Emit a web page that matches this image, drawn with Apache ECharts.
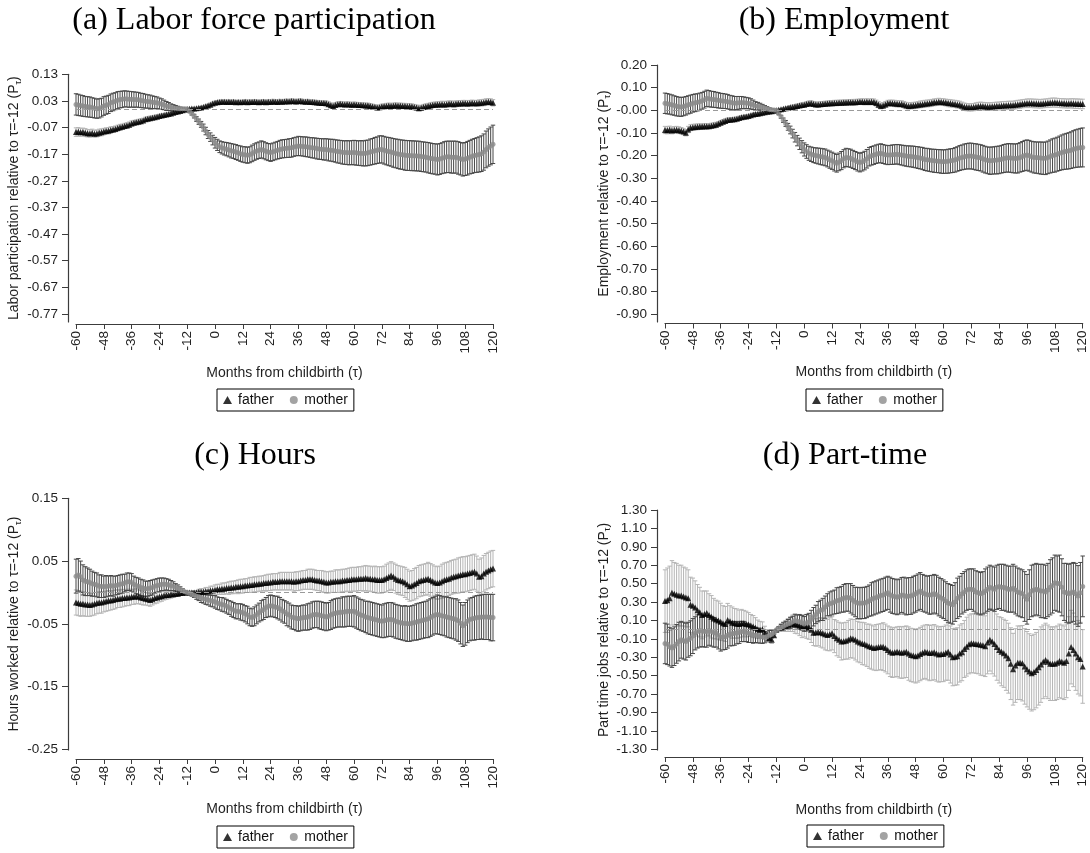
<!DOCTYPE html>
<html>
<head>
<meta charset="utf-8">
<script src="https://cdn.jsdelivr.net/npm/echarts@6/dist/echarts.min.js"></script>
<style>
html,body{margin:0;padding:0;background:#fff;}
#c{width:1090px;height:853px;}
</style>
</head>
<body>
<div id="c"></div>
<script>
// ---------- x categories (months from childbirth) ----------
const xTicks = [-60,-48,-36,-24,-12,0,12,24,36,48,60,72,84,96,108,120];

// ---------- y tick values / labels ----------
const yTicksA = [0.13,0.03,-0.07,-0.17,-0.27,-0.37,-0.47,-0.57,-0.67,-0.77];
const yLabelsA = ['0.13','0.03','-0.07','-0.17','-0.27','-0.37','-0.47','-0.57','-0.67','-0.77'];
const yTicksB = [0.20,0.10,0,-0.10,-0.20,-0.30,-0.40,-0.50,-0.60,-0.70,-0.80,-0.90];
const yLabelsB = ['0.20','0.10','-0.00','-0.10','-0.20','-0.30','-0.40','-0.50','-0.60','-0.70','-0.80','-0.90'];
const yTicksC = [0.15,0.05,-0.05,-0.15,-0.25];
const yLabelsC = ['0.15','0.05','-0.05','-0.15','-0.25'];
const yTicksD = [1.30,1.10,0.90,0.70,0.50,0.30,0.10,-0.10,-0.30,-0.50,-0.70,-0.90,-1.10,-1.30];
const yLabelsD = ['1.30','1.10','0.90','0.70','0.50','0.30','0.10','-0.10','-0.30','-0.50','-0.70','-0.90','-1.10','-1.30'];

// ---------- (a) Labor force participation: months -60..120 ----------
const aFather = [
-0.087,-0.086,-0.088,-0.087,-0.089,-0.091,-0.092,-0.090,-0.093,-0.092,
-0.089,-0.088,-0.085,-0.083,-0.082,-0.079,-0.077,-0.075,-0.072,-0.069,
-0.067,-0.064,-0.062,-0.059,-0.055,-0.052,-0.050,-0.048,-0.046,-0.043,
-0.039,-0.037,-0.035,-0.033,-0.031,-0.029,-0.027,-0.025,-0.023,-0.021,
-0.019,-0.017,-0.014,-0.012,-0.010,-0.008,-0.005,-0.003,0.000,0.001,
0.002,0.002,0.003,0.004,0.005,0.007,0.010,0.013,0.016,0.020,
0.023,0.025,0.026,0.027,0.027,0.026,0.027,0.026,0.027,0.025,
0.026,0.025,0.026,0.027,0.025,0.026,0.026,0.027,0.026,0.025,
0.026,0.027,0.025,0.027,0.026,0.028,0.027,0.026,0.028,0.027,
0.028,0.029,0.028,0.030,0.029,0.028,0.029,0.030,0.028,0.027,
0.028,0.026,0.026,0.025,0.024,0.023,0.022,0.022,0.021,0.018,
0.014,0.011,0.015,0.018,0.019,0.018,0.017,0.018,0.017,0.016,
0.017,0.016,0.015,0.015,0.014,0.013,0.013,0.011,0.009,0.007,
0.005,0.006,0.009,0.010,0.011,0.012,0.011,0.012,0.013,0.012,
0.012,0.011,0.011,0.010,0.010,0.009,0.007,0.005,0.003,0.004,
0.007,0.009,0.011,0.013,0.015,0.016,0.017,0.017,0.018,0.017,
0.018,0.019,0.019,0.018,0.019,0.020,0.020,0.021,0.021,0.020,
0.021,0.022,0.021,0.021,0.022,0.023,0.024,0.026,0.027,0.026,
0.023];
const aFatherCI = [
0.016,0.016,0.015,0.015,0.015,0.014,0.014,0.014,0.013,0.013,
0.013,0.013,0.012,0.012,0.012,0.012,0.011,0.011,0.011,0.011,
0.010,0.010,0.010,0.010,0.010,0.009,0.009,0.009,0.009,0.008,
0.008,0.008,0.008,0.007,0.007,0.007,0.007,0.006,0.006,0.006,
0.005,0.005,0.004,0.004,0.003,0.003,0.002,0.001,0.000,0.001,
0.002,0.002,0.003,0.003,0.004,0.004,0.005,0.005,0.006,0.006,
0.006,0.006,0.007,0.007,0.007,0.007,0.007,0.007,0.007,0.007,
0.007,0.007,0.007,0.008,0.008,0.008,0.008,0.008,0.008,0.008,
0.008,0.008,0.008,0.008,0.008,0.008,0.008,0.008,0.008,0.008,
0.008,0.008,0.008,0.008,0.008,0.008,0.008,0.008,0.008,0.008,
0.008,0.008,0.008,0.008,0.008,0.008,0.008,0.009,0.009,0.009,
0.009,0.009,0.009,0.009,0.009,0.009,0.009,0.009,0.009,0.009,
0.009,0.009,0.009,0.009,0.009,0.009,0.009,0.009,0.009,0.009,
0.009,0.009,0.009,0.009,0.010,0.010,0.010,0.010,0.010,0.010,
0.010,0.010,0.010,0.010,0.010,0.010,0.010,0.010,0.010,0.010,
0.010,0.010,0.010,0.010,0.010,0.010,0.010,0.010,0.011,0.011,
0.011,0.011,0.011,0.011,0.011,0.011,0.011,0.011,0.011,0.011,
0.011,0.011,0.011,0.011,0.012,0.012,0.012,0.012,0.012,0.012,
0.012];
const aMother = [
0.017,0.015,0.013,0.011,0.009,0.008,0.007,0.005,0.003,0.001,
0.002,0.005,0.011,0.014,0.017,0.023,0.026,0.029,0.033,0.035,
0.036,0.038,0.037,0.036,0.036,0.035,0.035,0.034,0.032,0.031,
0.029,0.028,0.027,0.025,0.024,0.023,0.020,0.018,0.015,0.011,
0.009,0.006,0.004,0.003,0.002,0.001,0.001,0.001,0.000,-0.010,
-0.018,-0.027,-0.038,-0.048,-0.058,-0.070,-0.083,-0.096,-0.106,-0.117,
-0.127,-0.135,-0.142,-0.146,-0.149,-0.151,-0.154,-0.157,-0.159,-0.162,
-0.165,-0.168,-0.171,-0.172,-0.174,-0.172,-0.167,-0.162,-0.158,-0.155,
-0.152,-0.155,-0.159,-0.162,-0.164,-0.161,-0.158,-0.155,-0.152,-0.150,
-0.149,-0.148,-0.147,-0.146,-0.143,-0.141,-0.139,-0.140,-0.141,-0.142,
-0.143,-0.145,-0.146,-0.147,-0.149,-0.150,-0.151,-0.152,-0.152,-0.154,
-0.155,-0.156,-0.158,-0.160,-0.161,-0.163,-0.164,-0.164,-0.165,-0.164,
-0.164,-0.165,-0.166,-0.166,-0.167,-0.166,-0.165,-0.162,-0.160,-0.157,
-0.155,-0.152,-0.152,-0.155,-0.158,-0.160,-0.162,-0.165,-0.167,-0.169,
-0.171,-0.172,-0.174,-0.175,-0.175,-0.176,-0.176,-0.177,-0.177,-0.179,
-0.180,-0.181,-0.183,-0.185,-0.187,-0.188,-0.190,-0.188,-0.185,-0.182,
-0.180,-0.180,-0.181,-0.181,-0.181,-0.184,-0.187,-0.190,-0.188,-0.185,
-0.181,-0.178,-0.175,-0.173,-0.171,-0.168,-0.162,-0.152,-0.145,-0.139,
-0.133];
const aMotherCI = [
0.040,0.040,0.039,0.039,0.038,0.038,0.038,0.037,0.037,0.036,
0.036,0.035,0.035,0.034,0.034,0.033,0.033,0.032,0.032,0.031,
0.031,0.030,0.030,0.030,0.029,0.029,0.028,0.028,0.027,0.027,
0.026,0.025,0.025,0.024,0.023,0.022,0.021,0.020,0.018,0.017,
0.015,0.013,0.012,0.010,0.008,0.006,0.004,0.002,0.000,0.003,
0.005,0.007,0.009,0.010,0.011,0.013,0.014,0.015,0.016,0.018,
0.020,0.021,0.022,0.023,0.024,0.025,0.026,0.027,0.027,0.028,
0.028,0.029,0.029,0.030,0.030,0.030,0.031,0.031,0.031,0.031,
0.032,0.032,0.032,0.032,0.033,0.033,0.033,0.033,0.034,0.034,
0.034,0.034,0.035,0.035,0.035,0.035,0.036,0.036,0.036,0.037,
0.037,0.037,0.038,0.038,0.039,0.039,0.039,0.040,0.040,0.041,
0.041,0.042,0.042,0.043,0.043,0.044,0.044,0.045,0.045,0.045,
0.046,0.046,0.046,0.047,0.047,0.048,0.048,0.049,0.049,0.050,
0.050,0.051,0.051,0.052,0.052,0.053,0.053,0.054,0.054,0.055,
0.055,0.055,0.056,0.056,0.056,0.056,0.056,0.056,0.056,0.056,
0.056,0.056,0.057,0.057,0.057,0.057,0.058,0.058,0.058,0.059,
0.059,0.059,0.060,0.060,0.060,0.061,0.061,0.062,0.062,0.063,
0.063,0.064,0.064,0.065,0.066,0.067,0.068,0.069,0.070,0.071,
0.072];

// ---------- (b) Employment ----------
const bFather = [
-0.087,-0.088,-0.086,-0.089,-0.087,-0.086,-0.088,-0.090,-0.094,-0.099,
-0.085,-0.077,-0.075,-0.074,-0.073,-0.072,-0.072,-0.071,-0.071,-0.070,
-0.068,-0.066,-0.064,-0.060,-0.055,-0.051,-0.047,-0.043,-0.042,-0.041,
-0.040,-0.037,-0.034,-0.031,-0.029,-0.027,-0.025,-0.022,-0.019,-0.016,
-0.015,-0.013,-0.011,-0.009,-0.007,-0.005,-0.004,-0.002,0.000,0.002,
0.005,0.007,0.009,0.011,0.013,0.015,0.017,0.019,0.021,0.023,
0.025,0.028,0.030,0.031,0.028,0.026,0.026,0.027,0.028,0.029,
0.030,0.031,0.031,0.032,0.032,0.033,0.033,0.034,0.034,0.035,
0.035,0.036,0.036,0.037,0.038,0.038,0.037,0.038,0.037,0.038,
0.037,0.032,0.025,0.019,0.021,0.026,0.031,0.032,0.031,0.030,
0.029,0.028,0.028,0.025,0.021,0.019,0.020,0.021,0.022,0.024,
0.026,0.027,0.029,0.030,0.031,0.033,0.035,0.036,0.038,0.037,
0.036,0.034,0.032,0.031,0.029,0.028,0.026,0.024,0.020,0.016,
0.014,0.013,0.013,0.014,0.016,0.018,0.019,0.018,0.017,0.016,
0.016,0.017,0.018,0.019,0.019,0.020,0.021,0.021,0.022,0.022,
0.022,0.024,0.026,0.027,0.029,0.030,0.031,0.031,0.031,0.030,
0.030,0.029,0.029,0.030,0.031,0.032,0.033,0.034,0.034,0.033,
0.032,0.031,0.031,0.030,0.030,0.031,0.030,0.029,0.029,0.028,
0.028];
const bFatherCI = [
0.016,0.016,0.016,0.015,0.015,0.015,0.015,0.014,0.014,0.014,
0.014,0.013,0.013,0.013,0.013,0.012,0.012,0.012,0.012,0.011,
0.011,0.011,0.011,0.010,0.010,0.010,0.010,0.009,0.009,0.009,
0.009,0.008,0.008,0.008,0.007,0.007,0.007,0.006,0.006,0.006,
0.005,0.005,0.004,0.004,0.003,0.003,0.002,0.001,0.000,0.002,
0.003,0.004,0.005,0.006,0.007,0.008,0.008,0.009,0.009,0.010,
0.010,0.010,0.011,0.011,0.011,0.011,0.011,0.011,0.011,0.011,
0.011,0.011,0.012,0.012,0.012,0.012,0.012,0.012,0.012,0.012,
0.012,0.012,0.012,0.012,0.012,0.013,0.013,0.013,0.013,0.013,
0.013,0.013,0.013,0.013,0.013,0.013,0.013,0.013,0.014,0.014,
0.014,0.014,0.014,0.014,0.014,0.014,0.014,0.014,0.014,0.014,
0.015,0.015,0.015,0.015,0.015,0.015,0.015,0.015,0.015,0.015,
0.015,0.015,0.016,0.016,0.016,0.016,0.016,0.016,0.016,0.016,
0.016,0.016,0.016,0.016,0.017,0.017,0.017,0.017,0.017,0.017,
0.017,0.017,0.017,0.017,0.017,0.018,0.018,0.018,0.018,0.018,
0.018,0.018,0.018,0.018,0.018,0.018,0.019,0.019,0.019,0.019,
0.019,0.019,0.019,0.019,0.019,0.019,0.020,0.020,0.020,0.020,
0.020,0.020,0.020,0.020,0.020,0.020,0.021,0.021,0.021,0.021,
0.021];
const bMother = [
0.031,0.029,0.027,0.024,0.021,0.018,0.016,0.015,0.017,0.020,
0.024,0.027,0.031,0.033,0.035,0.038,0.042,0.047,0.053,0.051,
0.049,0.048,0.046,0.044,0.042,0.041,0.040,0.038,0.035,0.033,
0.031,0.032,0.033,0.034,0.033,0.032,0.031,0.028,0.024,0.019,
0.018,0.016,0.013,0.010,0.007,0.004,0.002,0.001,0.000,-0.015,
-0.029,-0.044,-0.058,-0.073,-0.087,-0.103,-0.119,-0.134,-0.148,-0.161,
-0.173,-0.182,-0.190,-0.194,-0.198,-0.200,-0.202,-0.204,-0.206,-0.208,
-0.213,-0.218,-0.223,-0.229,-0.234,-0.228,-0.222,-0.214,-0.208,-0.210,
-0.212,-0.217,-0.222,-0.227,-0.231,-0.227,-0.222,-0.214,-0.205,-0.201,
-0.198,-0.194,-0.191,-0.190,-0.193,-0.196,-0.198,-0.197,-0.196,-0.195,
-0.194,-0.196,-0.198,-0.200,-0.202,-0.203,-0.204,-0.205,-0.207,-0.209,
-0.211,-0.213,-0.217,-0.218,-0.220,-0.222,-0.223,-0.224,-0.225,-0.226,
-0.227,-0.226,-0.225,-0.223,-0.222,-0.219,-0.215,-0.211,-0.208,-0.205,
-0.203,-0.202,-0.202,-0.204,-0.206,-0.208,-0.210,-0.214,-0.218,-0.221,
-0.223,-0.222,-0.221,-0.220,-0.219,-0.216,-0.213,-0.211,-0.210,-0.211,
-0.212,-0.213,-0.212,-0.208,-0.204,-0.200,-0.198,-0.201,-0.205,-0.208,
-0.209,-0.210,-0.211,-0.212,-0.212,-0.208,-0.204,-0.200,-0.198,-0.194,
-0.190,-0.186,-0.183,-0.181,-0.179,-0.176,-0.172,-0.169,-0.167,-0.165,
-0.164];
const bMotherCI = [
0.045,0.045,0.044,0.044,0.043,0.043,0.042,0.042,0.041,0.041,
0.040,0.040,0.039,0.039,0.038,0.038,0.037,0.037,0.036,0.036,
0.035,0.035,0.034,0.034,0.033,0.033,0.032,0.032,0.031,0.031,
0.030,0.029,0.028,0.027,0.026,0.025,0.024,0.023,0.021,0.019,
0.017,0.015,0.013,0.011,0.009,0.007,0.005,0.003,0.000,0.004,
0.007,0.010,0.013,0.015,0.017,0.019,0.021,0.023,0.025,0.027,
0.029,0.030,0.031,0.032,0.033,0.034,0.035,0.036,0.036,0.037,
0.037,0.038,0.038,0.039,0.039,0.039,0.040,0.040,0.040,0.040,
0.040,0.040,0.040,0.041,0.041,0.041,0.041,0.041,0.041,0.041,
0.041,0.041,0.041,0.042,0.042,0.042,0.042,0.042,0.043,0.043,
0.043,0.044,0.044,0.045,0.045,0.046,0.046,0.047,0.047,0.048,
0.048,0.049,0.049,0.050,0.050,0.050,0.051,0.051,0.051,0.052,
0.052,0.052,0.053,0.053,0.053,0.054,0.054,0.055,0.055,0.056,
0.056,0.057,0.057,0.057,0.058,0.058,0.058,0.059,0.059,0.059,
0.060,0.060,0.060,0.061,0.061,0.061,0.062,0.062,0.063,0.063,
0.064,0.064,0.065,0.065,0.066,0.067,0.067,0.068,0.068,0.069,
0.069,0.070,0.071,0.071,0.072,0.072,0.073,0.074,0.075,0.075,
0.076,0.077,0.078,0.079,0.080,0.081,0.082,0.083,0.084,0.085,
0.086];

// ---------- (c) Hours ----------
const cFather = [
-0.016,-0.017,-0.018,-0.018,-0.019,-0.019,-0.020,-0.019,-0.018,-0.017,
-0.016,-0.016,-0.015,-0.014,-0.013,-0.013,-0.012,-0.011,-0.010,-0.010,
-0.009,-0.009,-0.008,-0.008,-0.007,-0.007,-0.006,-0.007,-0.008,-0.009,
-0.010,-0.011,-0.012,-0.011,-0.009,-0.008,-0.007,-0.006,-0.005,-0.004,
-0.004,-0.003,-0.003,-0.002,-0.002,-0.001,-0.001,0.000,0.000,0.000,
0.000,0.000,0.000,0.001,0.001,0.001,0.002,0.002,0.003,0.003,
0.004,0.005,0.005,0.006,0.006,0.007,0.007,0.008,0.008,0.009,
0.009,0.010,0.010,0.011,0.011,0.012,0.012,0.013,0.013,0.014,
0.014,0.015,0.015,0.016,0.016,0.017,0.017,0.017,0.018,0.018,
0.018,0.018,0.018,0.018,0.017,0.018,0.018,0.019,0.020,0.020,
0.021,0.021,0.021,0.020,0.019,0.019,0.018,0.017,0.016,0.016,
0.017,0.017,0.018,0.018,0.018,0.019,0.019,0.020,0.020,0.021,
0.021,0.021,0.022,0.022,0.022,0.023,0.022,0.022,0.021,0.021,
0.020,0.020,0.020,0.021,0.023,0.025,0.027,0.025,0.022,0.020,
0.019,0.018,0.016,0.013,0.010,0.011,0.013,0.015,0.018,0.019,
0.020,0.021,0.022,0.020,0.018,0.016,0.015,0.016,0.018,0.020,
0.021,0.022,0.024,0.025,0.026,0.027,0.028,0.029,0.029,0.030,
0.031,0.032,0.033,0.030,0.025,0.026,0.030,0.033,0.035,0.037,
0.038];
const cFatherCI = [
0.020,0.020,0.020,0.019,0.019,0.019,0.018,0.018,0.018,0.017,
0.017,0.017,0.016,0.016,0.016,0.015,0.015,0.015,0.014,0.014,
0.014,0.013,0.013,0.013,0.012,0.012,0.012,0.011,0.011,0.011,
0.010,0.010,0.010,0.009,0.009,0.009,0.008,0.008,0.007,0.007,
0.006,0.006,0.005,0.004,0.004,0.003,0.002,0.001,0.000,0.001,
0.002,0.003,0.003,0.004,0.005,0.005,0.006,0.006,0.007,0.007,
0.008,0.008,0.008,0.009,0.009,0.009,0.010,0.010,0.010,0.010,
0.011,0.011,0.011,0.011,0.011,0.012,0.012,0.012,0.012,0.012,
0.012,0.012,0.013,0.013,0.013,0.013,0.013,0.013,0.014,0.014,
0.014,0.014,0.014,0.014,0.015,0.015,0.015,0.015,0.015,0.015,
0.016,0.016,0.016,0.016,0.016,0.016,0.017,0.017,0.017,0.017,
0.017,0.017,0.018,0.018,0.018,0.018,0.018,0.018,0.019,0.019,
0.019,0.019,0.019,0.019,0.020,0.020,0.020,0.020,0.020,0.021,
0.021,0.021,0.021,0.021,0.022,0.022,0.022,0.022,0.023,0.023,
0.023,0.023,0.024,0.024,0.024,0.024,0.025,0.025,0.025,0.025,
0.025,0.025,0.026,0.026,0.026,0.026,0.026,0.026,0.027,0.027,
0.027,0.027,0.027,0.027,0.027,0.028,0.028,0.028,0.028,0.028,
0.028,0.028,0.028,0.028,0.028,0.029,0.029,0.029,0.029,0.029,
0.029];
const cMother = [
0.026,0.028,0.025,0.020,0.018,0.017,0.016,0.014,0.013,0.012,
0.010,0.010,0.009,0.010,0.010,0.011,0.010,0.011,0.012,0.013,
0.014,0.015,0.017,0.017,0.016,0.013,0.011,0.010,0.008,0.007,
0.006,0.006,0.007,0.008,0.010,0.011,0.012,0.013,0.013,0.013,
0.012,0.011,0.010,0.008,0.007,0.005,0.003,0.001,0.000,-0.001,
-0.003,-0.004,-0.006,-0.007,-0.009,-0.010,-0.011,-0.012,-0.013,-0.014,
-0.015,-0.017,-0.018,-0.019,-0.020,-0.022,-0.024,-0.026,-0.028,-0.030,
-0.030,-0.031,-0.032,-0.034,-0.036,-0.039,-0.040,-0.038,-0.035,-0.032,
-0.029,-0.027,-0.024,-0.022,-0.021,-0.022,-0.023,-0.024,-0.026,-0.029,
-0.031,-0.034,-0.036,-0.039,-0.040,-0.041,-0.042,-0.041,-0.040,-0.040,
-0.039,-0.038,-0.036,-0.035,-0.035,-0.036,-0.037,-0.038,-0.039,-0.038,
-0.036,-0.034,-0.033,-0.032,-0.032,-0.031,-0.031,-0.030,-0.030,-0.030,
-0.030,-0.032,-0.034,-0.036,-0.037,-0.039,-0.040,-0.041,-0.042,-0.043,
-0.044,-0.045,-0.046,-0.045,-0.044,-0.043,-0.043,-0.044,-0.046,-0.047,
-0.048,-0.049,-0.049,-0.050,-0.050,-0.049,-0.048,-0.047,-0.046,-0.045,
-0.044,-0.043,-0.042,-0.040,-0.038,-0.036,-0.035,-0.036,-0.037,-0.038,
-0.039,-0.040,-0.041,-0.042,-0.043,-0.045,-0.049,-0.053,-0.050,-0.046,
-0.043,-0.042,-0.041,-0.040,-0.040,-0.039,-0.039,-0.039,-0.039,-0.040,
-0.040];
const cMotherCI = [
0.027,0.026,0.025,0.024,0.023,0.022,0.021,0.020,0.019,0.019,
0.018,0.018,0.017,0.017,0.016,0.016,0.016,0.015,0.015,0.015,
0.015,0.014,0.014,0.014,0.014,0.013,0.013,0.013,0.013,0.013,
0.012,0.012,0.012,0.012,0.011,0.011,0.011,0.010,0.010,0.009,
0.009,0.008,0.007,0.006,0.005,0.004,0.003,0.002,0.000,0.002,
0.003,0.004,0.005,0.006,0.007,0.007,0.008,0.008,0.009,0.009,
0.010,0.010,0.010,0.011,0.011,0.011,0.011,0.012,0.012,0.012,
0.012,0.013,0.013,0.013,0.014,0.014,0.014,0.015,0.015,0.015,
0.016,0.016,0.016,0.017,0.017,0.017,0.017,0.018,0.018,0.018,
0.018,0.019,0.019,0.019,0.019,0.020,0.020,0.020,0.020,0.020,
0.021,0.021,0.021,0.021,0.021,0.022,0.022,0.022,0.022,0.022,
0.023,0.023,0.023,0.023,0.023,0.024,0.024,0.024,0.024,0.024,
0.025,0.025,0.025,0.025,0.025,0.025,0.026,0.026,0.026,0.026,
0.026,0.026,0.026,0.027,0.027,0.027,0.027,0.027,0.027,0.027,
0.027,0.027,0.028,0.028,0.028,0.028,0.028,0.029,0.029,0.029,
0.029,0.029,0.030,0.030,0.030,0.030,0.031,0.031,0.031,0.031,
0.032,0.032,0.032,0.032,0.033,0.033,0.033,0.033,0.034,0.034,
0.034,0.034,0.035,0.035,0.035,0.035,0.036,0.036,0.036,0.037,
0.037];

// ---------- (d) Part-time ----------
const dFather = [
0.31,0.32,0.34,0.40,0.39,0.38,0.37,0.37,0.36,0.35,
0.34,0.27,0.26,0.24,0.21,0.19,0.16,0.17,0.18,0.16,
0.14,0.12,0.11,0.10,0.087,0.07,0.062,0.105,0.09,0.076,
0.07,0.065,0.062,0.07,0.069,0.06,0.055,0.045,0.033,0.02,
0.004,0.00,0.004,-0.033,-0.06,-0.09,-0.11,-0.06,0.00,0.015,
0.025,0.033,0.04,0.05,0.06,0.069,0.06,0.055,0.045,0.033,
0.04,0.035,0.025,0.00,-0.033,-0.03,-0.025,-0.03,-0.04,-0.05,
-0.058,-0.05,-0.04,-0.07,-0.094,-0.11,-0.13,-0.125,-0.12,-0.11,
-0.094,-0.10,-0.11,-0.13,-0.14,-0.15,-0.155,-0.17,-0.18,-0.19,
-0.20,-0.195,-0.19,-0.185,-0.185,-0.20,-0.22,-0.24,-0.25,-0.245,
-0.24,-0.245,-0.25,-0.245,-0.24,-0.26,-0.275,-0.28,-0.29,-0.28,
-0.265,-0.25,-0.24,-0.245,-0.255,-0.25,-0.245,-0.26,-0.27,-0.265,
-0.265,-0.25,-0.24,-0.27,-0.30,-0.295,-0.29,-0.26,-0.245,-0.21,
-0.185,-0.16,-0.148,-0.15,-0.155,-0.16,-0.165,-0.17,-0.18,-0.14,
-0.11,-0.13,-0.155,-0.19,-0.22,-0.24,-0.257,-0.28,-0.31,-0.37,
-0.43,-0.39,-0.36,-0.36,-0.365,-0.40,-0.43,-0.455,-0.474,-0.46,
-0.44,-0.41,-0.38,-0.35,-0.33,-0.35,-0.37,-0.37,-0.37,-0.36,
-0.34,-0.35,-0.36,-0.34,-0.26,-0.19,-0.22,-0.26,-0.30,-0.32,
-0.40];
const dFatherCI = [
0.34,0.35,0.35,0.35,0.34,0.34,0.33,0.33,0.32,0.32,
0.31,0.30,0.30,0.29,0.28,0.27,0.26,0.25,0.24,0.23,
0.23,0.22,0.21,0.21,0.20,0.19,0.19,0.18,0.17,0.17,
0.16,0.16,0.15,0.15,0.14,0.14,0.13,0.12,0.12,0.11,
0.10,0.09,0.08,0.07,0.06,0.05,0.04,0.02,0.00,0.02,
0.04,0.05,0.06,0.07,0.08,0.09,0.10,0.10,0.11,0.12,
0.12,0.13,0.13,0.14,0.14,0.15,0.15,0.16,0.16,0.17,
0.17,0.18,0.18,0.18,0.19,0.19,0.20,0.20,0.20,0.21,
0.21,0.21,0.22,0.22,0.22,0.23,0.23,0.23,0.24,0.24,
0.24,0.25,0.25,0.25,0.26,0.26,0.26,0.27,0.27,0.27,
0.27,0.28,0.28,0.28,0.28,0.29,0.29,0.29,0.29,0.29,
0.29,0.29,0.29,0.30,0.30,0.30,0.30,0.30,0.30,0.30,
0.30,0.30,0.31,0.31,0.31,0.31,0.31,0.31,0.31,0.31,
0.32,0.32,0.32,0.32,0.32,0.32,0.33,0.33,0.33,0.34,
0.34,0.35,0.35,0.36,0.36,0.37,0.37,0.38,0.38,0.39,
0.39,0.40,0.40,0.40,0.41,0.41,0.41,0.41,0.41,0.41,
0.41,0.41,0.41,0.40,0.40,0.40,0.40,0.40,0.40,0.40,
0.40,0.40,0.40,0.40,0.40,0.40,0.40,0.40,0.40,0.40,
0.40];
const dMother = [
-0.15,-0.16,-0.185,-0.20,-0.18,-0.155,-0.13,-0.11,-0.12,-0.13,
-0.11,-0.094,-0.07,-0.04,-0.02,-0.01,-0.015,-0.02,-0.02,-0.01,
-0.02,-0.03,-0.04,-0.06,-0.083,-0.08,-0.076,-0.06,-0.047,-0.045,
-0.04,-0.035,-0.03,-0.02,-0.02,-0.03,-0.04,-0.05,-0.058,-0.06,
-0.065,-0.076,-0.08,-0.083,-0.075,-0.06,-0.05,-0.03,0.00,0.012,
0.025,0.035,0.05,0.06,0.07,0.085,0.098,0.09,0.085,0.075,
0.062,0.075,0.087,0.11,0.14,0.165,0.195,0.21,0.22,0.245,
0.27,0.28,0.29,0.30,0.315,0.32,0.33,0.34,0.35,0.35,
0.34,0.32,0.30,0.29,0.286,0.29,0.29,0.30,0.315,0.33,
0.34,0.35,0.36,0.37,0.377,0.39,0.40,0.38,0.366,0.36,
0.352,0.36,0.377,0.37,0.36,0.365,0.366,0.38,0.39,0.405,
0.42,0.40,0.39,0.38,0.377,0.38,0.39,0.38,0.36,0.345,
0.33,0.31,0.29,0.28,0.27,0.30,0.34,0.36,0.39,0.41,
0.43,0.44,0.44,0.43,0.41,0.40,0.39,0.40,0.42,0.44,
0.46,0.45,0.44,0.46,0.47,0.46,0.46,0.45,0.44,0.44,
0.45,0.43,0.41,0.40,0.39,0.36,0.33,0.38,0.42,0.43,
0.44,0.43,0.42,0.42,0.41,0.43,0.46,0.48,0.51,0.50,
0.50,0.46,0.41,0.40,0.39,0.40,0.41,0.39,0.366,0.40,
0.47];
const dMotherCI = [
0.22,0.22,0.21,0.21,0.21,0.21,0.21,0.20,0.20,0.20,
0.19,0.19,0.19,0.18,0.18,0.18,0.17,0.17,0.17,0.16,
0.16,0.16,0.15,0.15,0.15,0.14,0.14,0.14,0.13,0.13,
0.13,0.12,0.12,0.11,0.11,0.10,0.10,0.09,0.09,0.08,
0.08,0.07,0.07,0.06,0.05,0.05,0.04,0.02,0.00,0.02,
0.03,0.04,0.04,0.05,0.06,0.06,0.07,0.07,0.08,0.08,
0.08,0.09,0.09,0.10,0.10,0.10,0.11,0.11,0.12,0.12,
0.12,0.13,0.13,0.13,0.14,0.14,0.14,0.15,0.15,0.15,
0.16,0.16,0.16,0.17,0.17,0.17,0.17,0.17,0.17,0.18,
0.18,0.18,0.18,0.18,0.18,0.18,0.18,0.19,0.19,0.19,
0.19,0.19,0.19,0.20,0.20,0.20,0.20,0.20,0.20,0.20,
0.20,0.20,0.20,0.20,0.21,0.21,0.21,0.21,0.21,0.21,
0.21,0.21,0.21,0.21,0.21,0.21,0.22,0.22,0.22,0.22,
0.22,0.22,0.22,0.23,0.23,0.23,0.23,0.23,0.24,0.24,
0.24,0.24,0.24,0.24,0.24,0.25,0.25,0.25,0.25,0.25,
0.26,0.26,0.26,0.26,0.26,0.27,0.27,0.27,0.28,0.28,
0.28,0.28,0.29,0.29,0.29,0.29,0.30,0.30,0.30,0.30,
0.31,0.31,0.31,0.32,0.32,0.32,0.32,0.33,0.33,0.33,
0.33];

// ---------- build ----------
const months = [];
for (let m = xTicks[0]; m <= xTicks[xTicks.length - 1]; m++) months.push(m);

const FONT = '"Liberation Sans", Arial, sans-serif';
const TXT = '#1f1f1f';
const AX = '#3c3c3c';

const panels = [
  { title: '(a) Labor force participation', tx: 249, ty: 16,
    grid: { left: 76, top: 74.3, width: 417, height: 247.7 },
    yMin: -0.80, yMax: 0.13, yTicks: yTicksA, yLabels: yLabelsA, xOff: 2, yGap: 45, xGap: 42,
    yName: 'Labor participation relative to τ=-12 (P{s|τ})',
    legend: { left: 217, top: 389 },
    f: aFather, fci: aFatherCI, m: aMother, mci: aMotherCI },
  { title: '(b) Employment', tx: 839, ty: 16,
    grid: { left: 665, top: 65, width: 417.7, height: 257 },
    yMin: -0.935, yMax: 0.20, yTicks: yTicksB, yLabels: yLabelsB, xOff: 1.5, yGap: 44, xGap: 42,
    yName: 'Employment relative to τ=-12 (P{s|τ})',
    legend: { left: 806, top: 389 },
    f: bFather, fci: bFatherCI, m: bMother, mci: bMotherCI },
  { title: '(c) Hours', tx: 250, ty: 451,
    grid: { left: 76, top: 498.3, width: 417, height: 251.7 },
    yMin: -0.251, yMax: 0.15, yTicks: yTicksC, yLabels: yLabelsC, xOff: 9, yGap: 45, xGap: 43,
    yName: 'Hours worked relative to τ=-12 (P{s|τ})',
    legend: { left: 217, top: 826 },
    f: cFather, fci: cFatherCI, m: cMother, mci: cMotherCI },
  { title: '(d) Part-time', tx: 840, ty: 451,
    grid: { left: 665, top: 510, width: 417.7, height: 240 },
    yMin: -1.308, yMax: 1.30, yTicks: yTicksD, yLabels: yLabelsD, xOff: 7, yGap: 44, xGap: 46,
    yName: 'Part time jobs relative to τ=-12 (P{s|τ})',
    legend: { left: 807, top: 825 },
    f: dFather, fci: dFatherCI, m: dMother, mci: dMotherCI }
];

function errData(v, h) { return months.map((m, i) => [m, v[i] - h[i], v[i] + h[i]]); }
function ptData(v) { return months.map((m, i) => [m, v[i]]); }

function errRender(color) {
  return function (params, api) {
    const x = api.value(0);
    const lo = api.coord([x, api.value(1)]);
    const hi = api.coord([x, api.value(2)]);
    const c = 2.2;
    const st = { stroke: color, lineWidth: 1 };
    return { type: 'group', children: [
      { type: 'line', shape: { x1: hi[0], y1: hi[1], x2: lo[0], y2: lo[1] }, style: st },
      { type: 'line', shape: { x1: hi[0] - c, y1: hi[1], x2: hi[0] + c, y2: hi[1] }, style: st },
      { type: 'line', shape: { x1: lo[0] - c, y1: lo[1], x2: lo[0] + c, y2: lo[1] }, style: st }
    ]};
  };
}

const option = { animation: false, backgroundColor: '#fff',
  title: [], grid: [], xAxis: [], yAxis: [], legend: [], series: [] };

panels.forEach((p, k) => {
  option.title.push({ text: p.title, left: p.tx, top: p.ty, textAlign: 'center', textVerticalAlign: 'middle',
    textStyle: { fontFamily: '"Liberation Serif", "DejaVu Serif", serif', fontSize: 32, fontWeight: 'normal', color: '#000' } });
  option.grid.push(Object.assign({ containLabel: false }, p.grid));
  option.xAxis.push({ type: 'value', gridIndex: k, min: xTicks[0], max: xTicks[xTicks.length - 1], interval: 12,
    offset: p.xOff, name: 'Months from childbirth (τ)', nameLocation: 'middle', nameGap: p.xGap,
    nameTextStyle: { fontFamily: FONT, fontSize: 14, color: TXT },
    axisLine: { show: true, onZero: false, lineStyle: { color: AX, width: 1.2 } },
    axisTick: { show: true, length: 5, lineStyle: { color: AX } },
    axisLabel: { rotate: 90, margin: 7, fontFamily: FONT, fontSize: 13.5, color: TXT, showMinLabel: true, showMaxLabel: true },
    splitLine: { show: false } });
  const yt = p.yTicks, yl = p.yLabels;
  option.yAxis.push({ type: 'value', gridIndex: k, min: p.yMin, max: p.yMax, offset: 8,
    name: p.yName, nameLocation: 'middle', nameGap: p.yGap, nameRotate: 90,
    nameTextStyle: { fontFamily: FONT, fontSize: 14, color: TXT,
      rich: { s: { fontFamily: FONT, fontSize: 9, color: TXT, padding: [8, 0, 0, 0] } } },
    axisLine: { show: true, onZero: false, lineStyle: { color: AX, width: 1.2 } },
    axisTick: { show: true, length: 6, customValues: yt, lineStyle: { color: AX } },
    axisLabel: { customValues: yt, margin: 10, fontFamily: FONT, fontSize: 13.5, color: TXT,
      formatter: function (v) { for (let i = 0; i < yt.length; i++) if (Math.abs(yt[i] - v) < 1e-6) return yl[i]; return ''; } },
    splitLine: { show: false } });
  option.legend.push({ left: p.legend.left, top: p.legend.top, orient: 'horizontal',
    data: [{ name: 'father', icon: 'triangle', itemStyle: { color: '#000' } },
           { name: 'mother', icon: 'circle', itemStyle: { color: '#8c8c8c' } }],
    borderColor: '#000', borderWidth: 1, padding: [4, 6, 4, 6], itemGap: 16, itemWidth: 9, itemHeight: 8,
    selectedMode: false,
    textStyle: { fontFamily: FONT, fontSize: 14, color: '#111', padding: [0, 0, 0, 1] } });
  option.series.push({ type: 'custom', name: 'father CI', xAxisIndex: k, yAxisIndex: k, z: 1,
    renderItem: errRender('#b5b5b5'), data: errData(p.f, p.fci), silent: true });
  option.series.push({ type: 'custom', name: 'mother CI', xAxisIndex: k, yAxisIndex: k, z: 2,
    renderItem: errRender('#474747'), data: errData(p.m, p.mci), silent: true });
  option.series.push({ type: 'scatter', name: 'father', xAxisIndex: k, yAxisIndex: k, z: 3,
    symbol: 'triangle', symbolSize: 6, itemStyle: { color: '#000' }, data: ptData(p.f),
    markLine: { silent: true, symbol: 'none', label: { show: false },
      lineStyle: { color: '#9a9a9a', type: [5, 3], width: 1 }, data: [{ yAxis: 0 }] } });
  option.series.push({ type: 'scatter', name: 'mother', xAxisIndex: k, yAxisIndex: k, z: 4,
    symbol: 'circle', symbolSize: 5, itemStyle: { color: '#8c8c8c' }, data: ptData(p.m) });
});

const chart = echarts.init(document.getElementById('c'), null, { renderer: 'canvas' });
chart.setOption(option);
</script>
</body>
</html>
